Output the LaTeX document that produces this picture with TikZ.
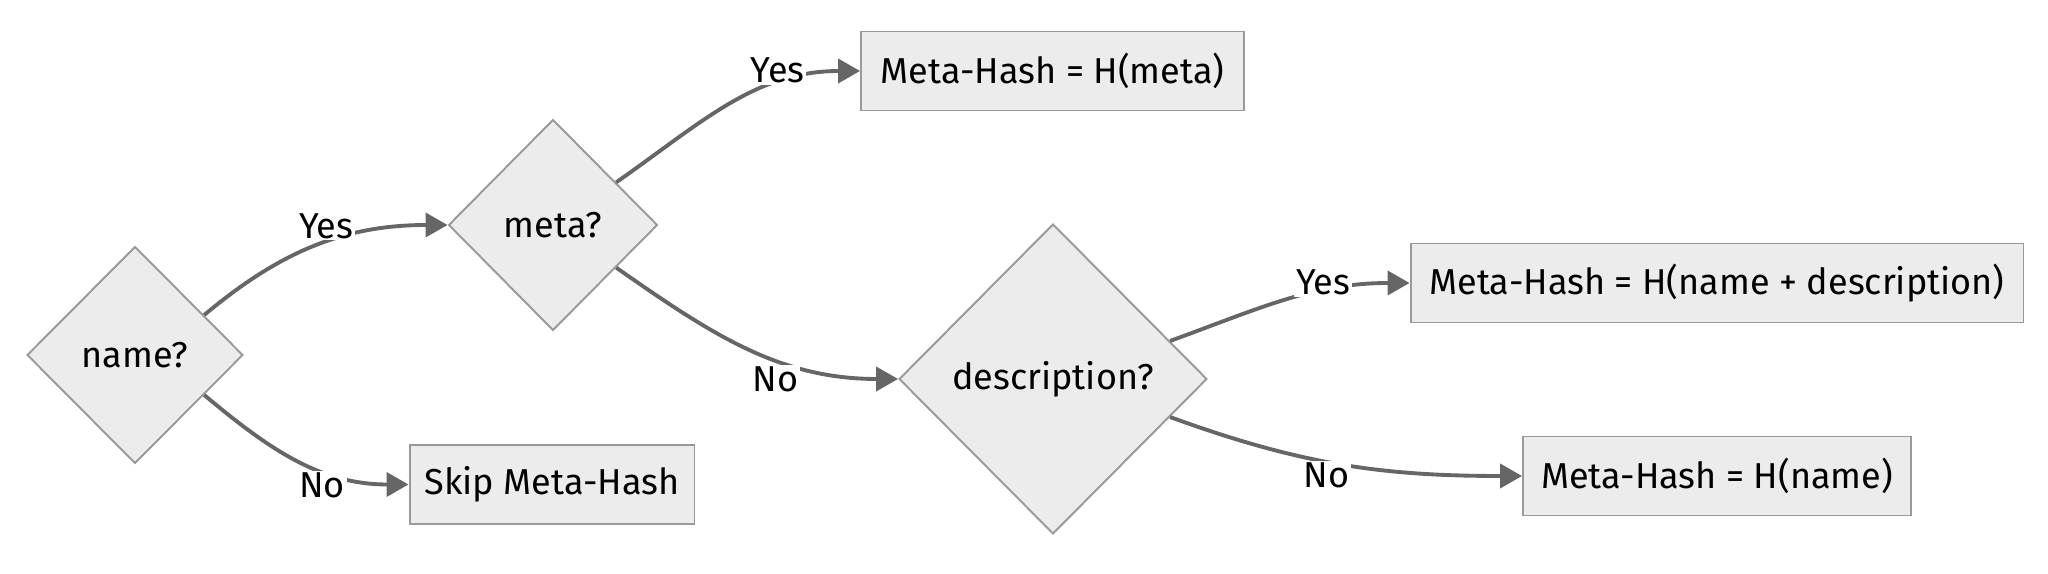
\documentclass[tikz,border=0pt]{standalone}
\usepackage{fontspec}
\setmainfont{Fira Sans}
\usepackage{xcolor}
\usepackage{tikz}
\usetikzlibrary{shapes.geometric,arrows.meta}
\definecolor{nodefill}{HTML}{ECECEC}
\definecolor{nodeline}{HTML}{999999}
\definecolor{edgeline}{HTML}{666666}

\begin{document}
\begin{tikzpicture}
                        [x=0.02cm, y=0.02cm,
                        font=\fontsize{20.5}{24}\selectfont,
                        decision/.style = {diamond, draw=nodeline, fill=nodefill,
                                    line width=1.1pt, inner sep=0pt},
                        result/.style = {rectangle, draw=nodeline, fill=nodefill,
                                    line width=1.1pt, inner sep=0pt,
                                    minimum height=1.58cm},
                        flow/.style = {draw=edgeline, line width=2.2pt,
                                    -{Triangle[length=0.44cm,width=0.48cm]}},
                        answer/.style = {fill=white, inner sep=1pt}]
                        \useasboundingbox (0,0) rectangle (2048,574);
                        % Decisiones
                        \node[decision, minimum width=4.32cm, minimum height=4.34cm] (name) at (135,219) {name?};
                        \node[decision, minimum width=4.18cm, minimum height=4.22cm] (meta) at (553,349) {meta?};
                        \node[decision, minimum width=6.16cm, minimum height=6.2cm] (desc) at (1053,195) {description?};
                        % Resultados
                        \node[result, minimum width=5.7cm] (skip) at (552,89.5) {Skip Meta-Hash};
                        \node[result, minimum width=7.66cm] (hmeta) at (1052.5,503) {Meta-Hash = H(meta)};
                        \node[result, minimum width=12.26cm] (hnamedesc) at (1717,291) {Meta-Hash = H(name + description)};
                        \node[result, minimum width=7.76cm] (hname) at (1717,98) {Meta-Hash = H(name)};
                        % Flechas
                        \draw[flow] (name.30) to[out=40,in=180] node[answer, pos=0.54, yshift=0.33cm] (nameyes) {Yes} (meta.west);
                        \draw[flow] (name.-30) to[out=-40,in=180] node[answer, pos=0.62, yshift=-0.3cm] (nameno) {No} (skip.west);
                        \draw[flow] (meta.34) to[out=35,in=180] node[answer, pos=0.7, yshift=0.26cm] (metayes) {Yes} (hmeta.west);
                        \draw[flow] (meta.-34) to[out=-35,in=180] node[answer, pos=0.6, yshift=-0.4cm] (metano) {No} (desc.west);
                        \draw[flow] (desc.18) to[out=20,in=180] node[answer, pos=0.66, yshift=0.17cm] (descyes) {Yes} (hnamedesc.west);
                        \draw[flow] (desc.-18) to[out=-20,in=180] node[answer, pos=0.45, yshift=-0.28cm] (descno) {No} (hname.west);
                    \end{tikzpicture}
\end{document}
